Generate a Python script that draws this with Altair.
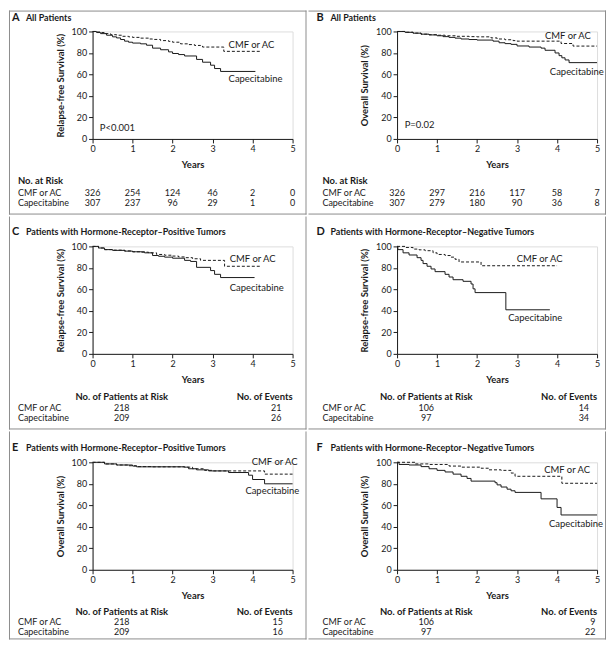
import altair as alt
import pandas as pd

FONT = "Lato"
INK = "#1a1a1a"
FRAME = "#8c8c8c"
W = 201
H = 108

YEARS = [0, 1, 2, 3, 4, 5]
Y_TICKS = [0, 20, 40, 60, 80, 100]
ARMS = ["CMF or AC", "Capecitabine"]

# ---- Panel A: relapse-free survival, all patients ----
a_cmf_t = [0, 0.1, 0.2, 0.3, 0.45, 0.6, 0.75, 0.9, 1.0, 1.2, 1.4, 1.5, 1.7, 1.9, 2.0, 2.2, 2.4, 2.55, 2.7, 2.75, 3.28, 4.2]
a_cmf_s = [100, 99.5, 99, 98, 97, 96.5, 95.5, 95, 94.5, 93.8, 93, 92.6, 91.5, 90.8, 90, 88.5, 87.8, 87, 86.5, 85.5, 81.5, 81.5]
a_cap_t = [0, 0.1, 0.2, 0.35, 0.5, 0.6, 0.7, 0.8, 0.9, 1.0, 1.2, 1.35, 1.5, 1.7, 1.9, 2.0, 2.15, 2.3, 2.6, 2.75, 2.95, 3.05, 3.2, 4.07]
a_cap_s = [100, 99, 98, 96.5, 95, 94, 92.5, 91, 90, 89.2, 88.5, 87.2, 84.5, 83, 81, 79.5, 78.5, 77.2, 74, 71.4, 68.6, 65.5, 62.8, 62.8]
a_risk_cmf = [326, 254, 124, 46, 2, 0]
a_risk_cap = [307, 237, 96, 29, 1, 0]

# ---- Panel B: overall survival, all patients ----
b_cmf_t = [0, 0.2, 0.4, 0.6, 0.8, 1.0, 1.2, 1.5, 1.8, 2.0, 2.35, 2.5, 2.7, 2.9, 3.0, 4.1, 4.4, 5.0]
b_cmf_s = [100, 99.3, 98.5, 97.5, 97, 96.5, 96, 95.5, 95.2, 95, 94, 93, 92.3, 91.5, 91, 88.8, 86.4, 86.4]
b_cap_t = [0, 0.2, 0.4, 0.6, 0.8, 1.0, 1.15, 1.3, 1.45, 1.6, 1.8, 2.0, 2.4, 2.55, 2.7, 2.85, 3.0, 3.3, 3.6, 3.7, 3.95, 4.05, 4.12, 4.2, 4.3, 5.0]
b_cap_s = [100, 99.2, 98.4, 97.5, 96.8, 96, 95.2, 94.5, 93.8, 93, 92.5, 92, 91, 89.5, 88.7, 88, 86.5, 85.5, 84.5, 82.5, 80, 77.5, 75.5, 73.5, 71, 71]
b_risk_cmf = [326, 297, 216, 117, 58, 7]
b_risk_cap = [307, 279, 180, 90, 36, 8]

# ---- Panel C: RFS, hormone-receptor-positive ----
c_cmf_t = [0, 0.15, 0.3, 0.5, 0.8, 1.0, 1.2, 1.4, 1.6, 1.8, 2.0, 2.15, 2.3, 2.5, 2.7, 3.3, 4.2]
c_cmf_s = [100, 98.5, 97, 96.5, 95.8, 95, 94.6, 94, 92.5, 91.8, 91, 90.2, 89.5, 88.5, 87, 81.5, 81.5]
c_cap_t = [0, 0.15, 0.3, 0.5, 0.8, 1.0, 1.3, 1.5, 1.65, 1.8, 2.0, 2.3, 2.45, 2.6, 2.95, 3.05, 3.2, 4.05]
c_cap_s = [100, 98.5, 97, 96.3, 95.6, 95, 94, 91.5, 90.8, 90, 89, 87, 86, 80.5, 77.5, 74, 71, 71]
c_at_risk = [218, 209]
c_events = [21, 26]

# ---- Panel D: RFS, hormone-receptor-negative ----
d_cmf_t = [0, 0.2, 0.4, 0.55, 0.7, 0.9, 1.0, 1.2, 1.35, 1.45, 1.55, 2.1, 4.0]
d_cmf_s = [100, 99, 97.5, 96.8, 96, 94, 92.5, 91.5, 90, 88, 85.5, 82, 82]
d_cap_t = [0, 0.02, 0.15, 0.3, 0.5, 0.6, 0.65, 0.75, 0.85, 0.95, 1.2, 1.3, 1.4, 1.65, 1.85, 1.9, 1.95, 2.72, 3.82]
d_cap_s = [100, 97, 94, 92, 89.5, 87, 84, 81.5, 79, 76.5, 74, 71.5, 69, 67.5, 65, 60.5, 57, 41, 41]
d_at_risk = [106, 97]
d_events = [14, 34]

# ---- Panel E: OS, hormone-receptor-positive ----
e_cmf_t = [0, 0.3, 0.6, 0.9, 1.1, 1.5, 2.3, 2.5, 2.8, 3.0, 4.3, 5.0]
e_cmf_s = [100, 98.5, 97.5, 96.8, 96, 95.8, 95.5, 94, 92.5, 92, 89, 89]
e_cap_t = [0, 0.3, 0.6, 1.0, 1.1, 2.3, 2.4, 2.6, 2.9, 3.4, 3.9, 4.0, 4.3, 5.0]
e_cap_s = [100, 98.5, 97.5, 96.5, 95.8, 95.5, 94, 93, 92, 90.5, 88, 84, 80, 80]
e_at_risk = [218, 209]
e_events = [15, 16]

# ---- Panel F: OS, hormone-receptor-negative ----
f_cmf_t = [0, 0.45, 0.8, 1.3, 1.6, 2.1, 2.3, 2.6, 2.85, 2.95, 4.12, 5.0]
f_cmf_s = [100, 98.5, 98, 96.5, 95.5, 94.5, 93, 92.5, 90, 87, 80.5, 80.5]
f_cap_t = [0, 0.05, 0.3, 0.6, 0.8, 1.0, 1.2, 1.4, 1.6, 1.75, 1.85, 2.45, 2.5, 2.6, 2.75, 2.85, 2.95, 3.6, 4.0, 4.1, 5.0]
f_cap_s = [100, 98, 97.5, 96, 94, 92.5, 91, 89, 87, 85, 82.5, 81, 79, 77, 75, 73.5, 72, 66, 58, 51, 51]
f_at_risk = [106, 97]
f_events = [9, 22]

TAB_FS = 9


def make_panel(letter, title, ytitle, cmf, cap, labels, pval, risk, counts,
               frame, edges, tab):
    xs = alt.Scale(domain=[0, 5], nice=False)
    ys = alt.Scale(domain=[0, 100], nice=False)
    xaxis = alt.Axis(values=YEARS, title="Years", grid=False, format="d",
                     labelFlush=False, labelFont=FONT, labelFontSize=9,
                     labelColor=INK, tickColor=INK, domainColor=INK,
                     tickSize=4, labelPadding=2, titleFont=FONT,
                     titleFontSize=9.5, titleFontWeight="bold",
                     titleColor=INK, titlePadding=6)
    yaxis = alt.Axis(values=Y_TICKS, title=ytitle, grid=False, format="d",
                     labelFont=FONT, labelFontSize=9, labelColor=INK,
                     tickColor=INK, domainColor=INK, tickSize=4,
                     labelPadding=2, titleFont=FONT, titleFontSize=9.5,
                     titleFontWeight="bold", titleColor=INK, titlePadding=6)
    X = alt.X("t:Q", scale=xs, axis=xaxis)
    Y = alt.Y("s:Q", scale=ys, axis=yaxis)

    one = pd.DataFrame({"k": [0]})
    left, right, top, bottom = frame

    layers = []
    # invisible box that fixes the panel size
    layers.append(alt.Chart(one).mark_rect(fillOpacity=0, strokeOpacity=0).encode(
        x=alt.value(left), x2=alt.value(right), y=alt.value(top), y2=alt.value(bottom)))
    # panel frame edges
    for e in edges:
        if e == "left":
            enc = dict(x=alt.value(left + 0.5), x2=alt.value(left + 0.5), y=alt.value(top), y2=alt.value(bottom))
        elif e == "right":
            enc = dict(x=alt.value(right - 0.5), x2=alt.value(right - 0.5), y=alt.value(top), y2=alt.value(bottom))
        elif e == "top":
            enc = dict(x=alt.value(left), x2=alt.value(right), y=alt.value(top + 0.5), y2=alt.value(top + 0.5))
        else:
            enc = dict(x=alt.value(left), x2=alt.value(right), y=alt.value(bottom - 0.5), y2=alt.value(bottom - 0.5))
        layers.append(alt.Chart(one).mark_rule(color=FRAME, strokeWidth=1).encode(**enc))

    # survival curves
    cmf_df = pd.DataFrame({"t": cmf[0], "s": cmf[1]})
    cap_df = pd.DataFrame({"t": cap[0], "s": cap[1]})
    layers.append(alt.Chart(cmf_df).mark_line(interpolate="step-after", color=INK,
                                              strokeWidth=1, strokeDash=[3, 2]).encode(x=X, y=Y))
    layers.append(alt.Chart(cap_df).mark_line(interpolate="step-after", color=INK,
                                              strokeWidth=1).encode(x=X, y=Y))

    # curve labels
    lab_df = pd.DataFrame({"t": [labels[0][0], labels[1][0]],
                           "s": [labels[0][1], labels[1][1]],
                           "label": ARMS})
    layers.append(alt.Chart(lab_df).mark_text(align="left", baseline="middle", font=FONT,
                                              fontSize=9.5, color=INK).encode(x=X, y=Y, text="label:N"))
    if pval is not None:
        p_df = pd.DataFrame({"t": [pval[0]], "s": [pval[1]], "label": [pval[2]]})
        layers.append(alt.Chart(p_df).mark_text(align="left", baseline="middle", font=FONT,
                                                fontSize=9.5, color=INK).encode(x=X, y=Y, text="label:N"))

    # panel title
    layers.append(alt.Chart(one).mark_text(align="left", baseline="middle", font=FONT,
                                           fontSize=11, fontWeight="bold", color=INK,
                                           text=letter).encode(x=alt.value(-81), y=alt.value(-14)))
    layers.append(alt.Chart(one).mark_text(align="left", baseline="middle", font=FONT,
                                           fontSize=9, fontWeight="bold", color=INK,
                                           text=title).encode(x=alt.value(-67), y=alt.value(-14)))

    hy, r1, r2 = tab
    # row labels
    rl_df = pd.DataFrame({"label": ARMS, "yy": [r1, r2]})
    layers.append(alt.Chart(rl_df).mark_text(align="left", baseline="middle", font=FONT,
                                             fontSize=TAB_FS, color=INK).encode(
        x=alt.value(-75), y=alt.Y("yy:Q", scale=None), text="label:N"))

    if risk is not None:
        layers.append(alt.Chart(one).mark_text(align="left", baseline="middle", font=FONT,
                                               fontSize=9.5, fontWeight="bold", color=INK,
                                               text="No. at Risk").encode(x=alt.value(-75), y=alt.value(hy)))
        rk = pd.DataFrame({"t": YEARS * 2, "n": risk[0] + risk[1],
                           "yy": [r1] * 6 + [r2] * 6})
        layers.append(alt.Chart(rk).mark_text(align="center", baseline="middle", font=FONT,
                                              fontSize=TAB_FS, color=INK).encode(
            x=X, y=alt.Y("yy:Q", scale=None), text="n:Q"))
    else:
        at_risk, events, xr, xe = counts
        layers.append(alt.Chart(pd.DataFrame({"t": [xr], "label": ["No. of Patients at Risk"]})).mark_text(
            align="center", baseline="middle", font=FONT, fontSize=9.5, fontWeight="bold",
            color=INK).encode(x=X, y=alt.value(hy), text="label:N"))
        layers.append(alt.Chart(pd.DataFrame({"t": [5], "label": ["No. of Events"]})).mark_text(
            align="right", baseline="middle", font=FONT, fontSize=9.5, fontWeight="bold",
            color=INK).encode(x=X, y=alt.value(hy), text="label:N"))
        ar = pd.DataFrame({"t": [xr, xr], "n": at_risk, "yy": [r1, r2]})
        layers.append(alt.Chart(ar).mark_text(align="center", baseline="middle", font=FONT,
                                              fontSize=TAB_FS, color=INK).encode(
            x=X, y=alt.Y("yy:Q", scale=None), text="n:Q"))
        ev = pd.DataFrame({"t": [xe, xe], "n": events, "yy": [r1, r2]})
        layers.append(alt.Chart(ev).mark_text(align="right", baseline="middle", font=FONT,
                                              fontSize=TAB_FS, color=INK).encode(
            x=X, y=alt.Y("yy:Q", scale=None), text="n:Q"))

    return alt.layer(*layers).properties(width=W, height=H)


RFS = "Relapse-free Survival (%)"
OS = "Overall Survival (%)"
HRP = "Patients with Hormone-Receptor\u2013Positive Tumors"
HRN = "Patients with Hormone-Receptor\u2013Negative Tumors"

L1 = (-84, 215)
R1 = (-89, 210)

pA = make_panel("A", "All Patients", RFS, (a_cmf_t, a_cmf_s), (a_cap_t, a_cap_s),
                [(3.4, 87), (3.4, 56)], (0.18, 10, "P<0.001"),
                (a_risk_cmf, a_risk_cap), None,
                (L1[0], L1[1], -21, H + 76), ["top", "left", "right", "bottom"],
                (H + 42, H + 54, H + 64))
pB = make_panel("B", "All Patients", OS, (b_cmf_t, b_cmf_s), (b_cap_t, b_cap_s),
                [(3.7, 96), (3.82, 62)], (0.19, 13, "P=0.02"),
                (b_risk_cmf, b_risk_cap), None,
                (R1[0], R1[1], -21, H + 76), ["top", "right", "bottom"],
                (H + 42, H + 54, H + 64))
pC = make_panel("C", HRP, RFS, (c_cmf_t, c_cmf_s), (c_cap_t, c_cap_s),
                [(3.43, 88), (3.43, 61.5)], None, None,
                (c_at_risk, c_events, 0.73, 4.72),
                (L1[0], L1[1], -30, H + 76), ["left", "right", "bottom"],
                (H + 43, H + 54, H + 64))
pD = make_panel("D", HRN, RFS, (d_cmf_t, d_cmf_s), (d_cap_t, d_cap_s),
                [(2.99, 88), (2.78, 33)], None, None,
                (d_at_risk, d_events, 0.73, 4.8),
                (R1[0], R1[1], -30, H + 76), ["right", "bottom"],
                (H + 43, H + 54, H + 64))
pE = make_panel("E", HRP, OS, (e_cmf_t, e_cmf_s), (e_cap_t, e_cap_s),
                [(3.98, 100), (3.82, 73)], None, None,
                (e_at_risk, e_events, 0.73, 4.76),
                (L1[0], L1[1], -31, H + 70), ["left", "right", "bottom"],
                (H + 42, H + 53, H + 63))
pF = make_panel("F", HRN, OS, (f_cmf_t, f_cmf_s), (f_cap_t, f_cap_s),
                [(3.68, 92.5), (3.8, 42.5)], None, None,
                (f_at_risk, f_events, 0.73, 4.96),
                (R1[0], R1[1], -31, H + 70), ["right", "bottom"],
                (H + 42, H + 53, H + 63))

chart = alt.vconcat(
    alt.hconcat(pA, pB, spacing=0),
    alt.hconcat(pC, pD, spacing=0),
    alt.hconcat(pE, pF, spacing=0),
    spacing=0,
).configure_view(strokeWidth=0).configure(font=FONT).properties(padding=0)

chart.save("out.html", embed_options={"renderer": "svg", "actions": False})
